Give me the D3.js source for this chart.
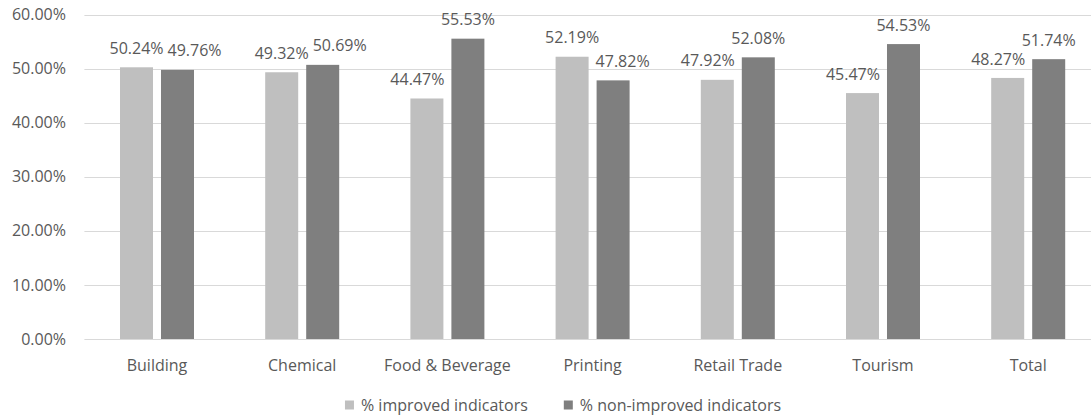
<!DOCTYPE html>
<html><head><meta charset="utf-8">
<script src="https://cdn.jsdelivr.net/npm/d3@7"></script>
<style>
html,body{margin:0;padding:0;background:#fff;}
svg text{font-family:"Open Sans",sans-serif;fill:#595959;}
</style></head>
<body><svg id="c" width="1091" height="418"></svg>
<script>
const categories = ["Building","Chemical","Food & Beverage","Printing","Retail Trade","Tourism","Total"];
const seriesNames = ["% improved indicators","% non-improved indicators"];
const improved = [50.24,49.32,44.47,52.19,47.92,45.47,48.27];
const nonImproved = [49.76,50.69,55.53,47.82,52.08,54.53,51.74];
const yTicks = [0,10,20,30,40,50,60];
const colors = ["#bfbfbf","#7f7f7f"];

(function(){
const svg = d3.select("#c");
const W = 1091, H = 418;
const pLeft = 84.4, pRight = 1100.8, pTop = 14.5, pBottom = 339;

const x0 = d3.scaleBand().domain(categories).range([pLeft, pRight]).padding(0);
const groupW = 74;
const x1 = d3.scaleBand().domain([0,1])
  .range([x0.bandwidth()/2 - groupW/2, x0.bandwidth()/2 + groupW/2]).paddingInner(0.195).paddingOuter(0);
const y = d3.scaleLinear().domain([0,60]).range([pBottom, pTop]);
const fmt = v => d3.format(".2f")(v) + "%";

// gridlines
svg.append("g").selectAll("line").data(yTicks).join("line")
  .attr("x1", pLeft).attr("x2", W)
  .attr("y1", d => Math.round(y(d))+0.5).attr("y2", d => Math.round(y(d))+0.5)
  .attr("stroke", "#d9d9d9").attr("stroke-width", 1);

// y axis labels
svg.append("g").selectAll("text").data(yTicks).join("text")
  .attr("x", 66).attr("y", d => y(d)).attr("dy","0.35em")
  .attr("text-anchor","end").attr("font-size", 16)
  .text(d => d3.format(".2f")(d) + "%");

// bars
const values = [improved, nonImproved];
const barData = [];
categories.forEach((c, i) => {
  [0,1].forEach(s => barData.push({c, i, s, v: values[s][i]}));
});
svg.append("g").selectAll("rect").data(barData).join("rect")
  .attr("x", d => x0(d.c) + x1(d.s))
  .attr("y", d => y(d.v))
  .attr("width", x1.bandwidth())
  .attr("height", d => y(0) - y(d.v))
  .attr("fill", d => colors[d.s]);

// category labels
svg.append("g").selectAll("text").data(categories).join("text")
  .attr("x", d => x0(d) + x0.bandwidth()/2).attr("y", 365).attr("dy","0.35em")
  .attr("text-anchor","middle").attr("font-size", 16)
  .text(d => d);

// value labels with simple collision avoidance
const lg = svg.append("g");
const labelH = 14, gapBar = 7, gapLab = 4, above = 19;
categories.forEach((c, i) => {
  const bars = [0,1].map(s => ({
    x: x0(c) + x1(s), w: x1.bandwidth(), top: y(values[s][i])
  }));
  const placed = [];
  [0,1].forEach(s => {
    const t = lg.append("text").attr("font-size", 16).attr("text-anchor","middle")
      .text(fmt(values[s][i]));
    const tw = t.node().getComputedTextLength();
    let cx = bars[s].x + bars[s].w/2;
    const cy = bars[s].top - above;
    const dir = s === 0 ? -1 : 1;
    const o = bars[1-s];
    const vOverBar = (cy + labelH/2) > o.top;
    if (vOverBar) {
      if (dir < 0) { const lim = o.x - gapBar; if (cx + tw/2 > lim) cx = lim - tw/2; }
      else { const lim = o.x + o.w + gapBar; if (cx - tw/2 < lim) cx = lim + tw/2; }
    }
    placed.forEach(p => {
      const vOver = Math.abs(p.cy - cy) < labelH;
      const hOver = (cx - tw/2 < p.cx + p.w/2 + gapLab) && (cx + tw/2 > p.cx - p.w/2 - gapLab);
      if (vOver && hOver) {
        if (dir > 0) cx = p.cx + p.w/2 + gapLab + tw/2;
        else cx = p.cx - p.w/2 - gapLab - tw/2;
      }
    });
    placed.push({cx, cy, w: tw});
    t.attr("x", cx).attr("y", cy).attr("dy","0.35em");
  });
});

// legend
const leg = svg.append("g");
const items = seriesNames.map((n, s) => {
  const g = leg.append("g");
  g.append("rect").attr("width", 9).attr("height", 9).attr("y", -4.5).attr("fill", colors[s]);
  const t = g.append("text").attr("x", 16).attr("dy","0.35em").attr("font-size", 16).text(n);
  return {g, w: 16 + t.node().getComputedTextLength()};
});
const itemGap = 36;
const totalW = d3.sum(items, d => d.w) + itemGap * (items.length - 1);
let lx = 563 - totalW/2;
items.forEach(it => { it.g.attr("transform", `translate(${lx},405)`); lx += it.w + itemGap; });
})();
</script></body></html>
